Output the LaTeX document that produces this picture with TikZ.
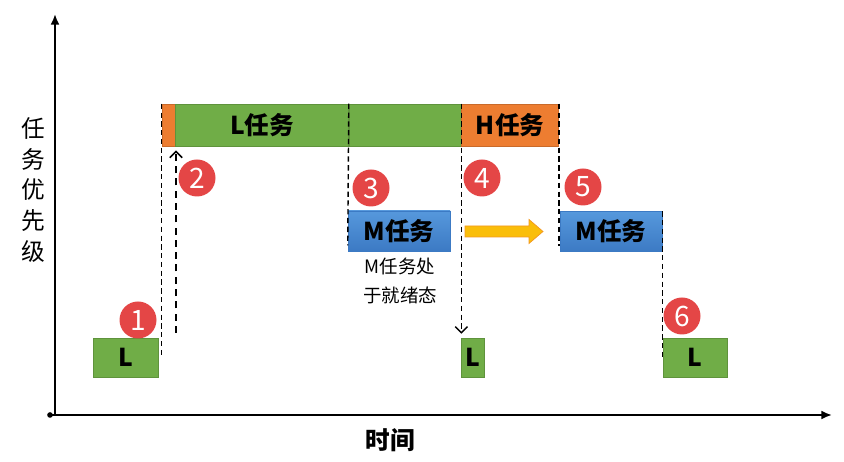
\documentclass[tikz,border=0pt]{standalone}
\usepackage{fontspec}
\setmainfont{Noto Sans CJK SC}
\usetikzlibrary{calc,positioning,arrows.meta}
\definecolor{taskgreen}{RGB}{112,173,71}
\definecolor{taskorange}{RGB}{237,125,49}
\definecolor{taskblue}{RGB}{86,152,220}
\definecolor{taskbluedark}{RGB}{60,122,196}
\definecolor{markred}{RGB}{228,70,70}
\definecolor{movegold}{RGB}{250,190,10}

\tikzset{
  task/.style={inner sep=0pt, font=\fontsize{14}{16}\selectfont\bfseries, text=black},
  lbox/.style={task, fill=taskgreen, draw=taskgreen!85!black, line width=0.3pt},
  hbox/.style={task, fill=taskorange, draw=taskorange!85!black, line width=0.3pt},
  mbox/.style={task, top color=taskblue, bottom color=taskbluedark, draw=taskbluedark, line width=0.3pt},
  marker/.style={circle, fill=markred, text=white, minimum size=0.74cm, inner sep=0pt, font=\fontsize{16}{16}\selectfont},
  dashline/.style={densely dashed, line width=0.8pt},
  wakeline/.style={dash pattern=on 4pt off 3pt, line width=1pt},
  barb/.style={-{Straight Barb[length=3.5pt,width=7pt]}},
}

\begin{document}
\begin{tikzpicture}
  \useasboundingbox (0,0) rectangle (16.88,9.24);
  % axes
  \coordinate (origin) at (1.0,0.94);
  \fill (origin) circle (1.6pt);
  \draw[line width=1.1pt, -{Latex[length=6pt,width=5pt]}] (1.1,0.94) -- (1.1,8.96);
  \draw[line width=1.1pt, -{Latex[length=6pt,width=5pt]}] (origin) -- (16.64,0.94);
  \node[font=\fontsize{13.5}{17.6}\selectfont, align=center] (ylab) at (0.66,5.44) {任\\务\\优\\先\\级};
  \node[font=\fontsize{14}{16}\selectfont\bfseries] (xlab) at (7.8,0.44) {时间};

  % top row: running tasks
  \node[hbox, minimum width=0.26cm, minimum height=0.84cm] (pre) at (3.37,6.74) {};
  \node[lbox, minimum width=3.46cm, minimum height=0.84cm, right=0pt of pre] (lrun) {L任务};
  \node[lbox, minimum width=2.24cm, minimum height=0.84cm, right=0pt of lrun] (lcont) {};
  \node[hbox, minimum width=1.94cm, minimum height=0.84cm, right=0pt of lcont] (hrun) {H任务};

  % middle row: M task
  \node[mbox, minimum width=2.04cm, minimum height=0.8cm] (mwait) at (7.98,4.62) {M任务};
  \node[mbox, minimum width=2.04cm, minimum height=0.8cm] (mrun) at (12.22,4.61) {M任务};
  \node[font=\fontsize{10.5}{16}\selectfont, align=center] (ready) at (8.0,3.62) {M任务处\\于就绪态};

  % bottom row: L task
  \node[lbox, minimum width=1.3cm, minimum height=0.78cm] (lstart) at (2.51,2.09) {L};
  \node[lbox, minimum width=0.46cm, minimum height=0.78cm] (lmid) at (9.45,2.09) {L};
  \node[lbox, minimum width=1.28cm, minimum height=0.78cm] (lend) at (13.9,2.09) {L};

  % dashed jumps
  \coordinate (wake) at (3.52,2.58);
  \draw[dashline] (pre.north west) -- (pre.north west |- lstart.east);
  \draw[wakeline, barb] (wake) -- ($(wake |- lrun.south)+(0,-0.08)$);
  \draw[dashline] (lcont.north west) -- ($(mwait.south west)+(0,0.12)$);
  \draw[dashline, barb] (hrun.north west) -- ($(hrun.north west |- lmid.north)+(0,0.08)$);
  \draw[dashline] (hrun.north east) -- ($(hrun.north east |- mrun.south)+(0,0.12)$);
  \draw[dashline] (mrun.north east) -- (mrun.north east |- lend.center);

  % M moves from ready to running
  \filldraw[fill=movegold, draw=taskorange!60!movegold, line width=0.4pt]
    (9.3,4.5) -- (10.58,4.5) -- (10.58,4.37) -- (10.86,4.61) -- (10.58,4.85) -- (10.58,4.72) -- (9.3,4.72) -- cycle;

  % step markers
  \foreach \n/\x/\y in {1/2.76/2.84, 2/3.94/5.68, 3/7.42/5.48, 4/9.64/5.68, 5/11.66/5.5, 6/13.64/2.92}{
    \node[marker] (step\n) at (\x,\y) {\n};
  }
\end{tikzpicture}
\end{document}
